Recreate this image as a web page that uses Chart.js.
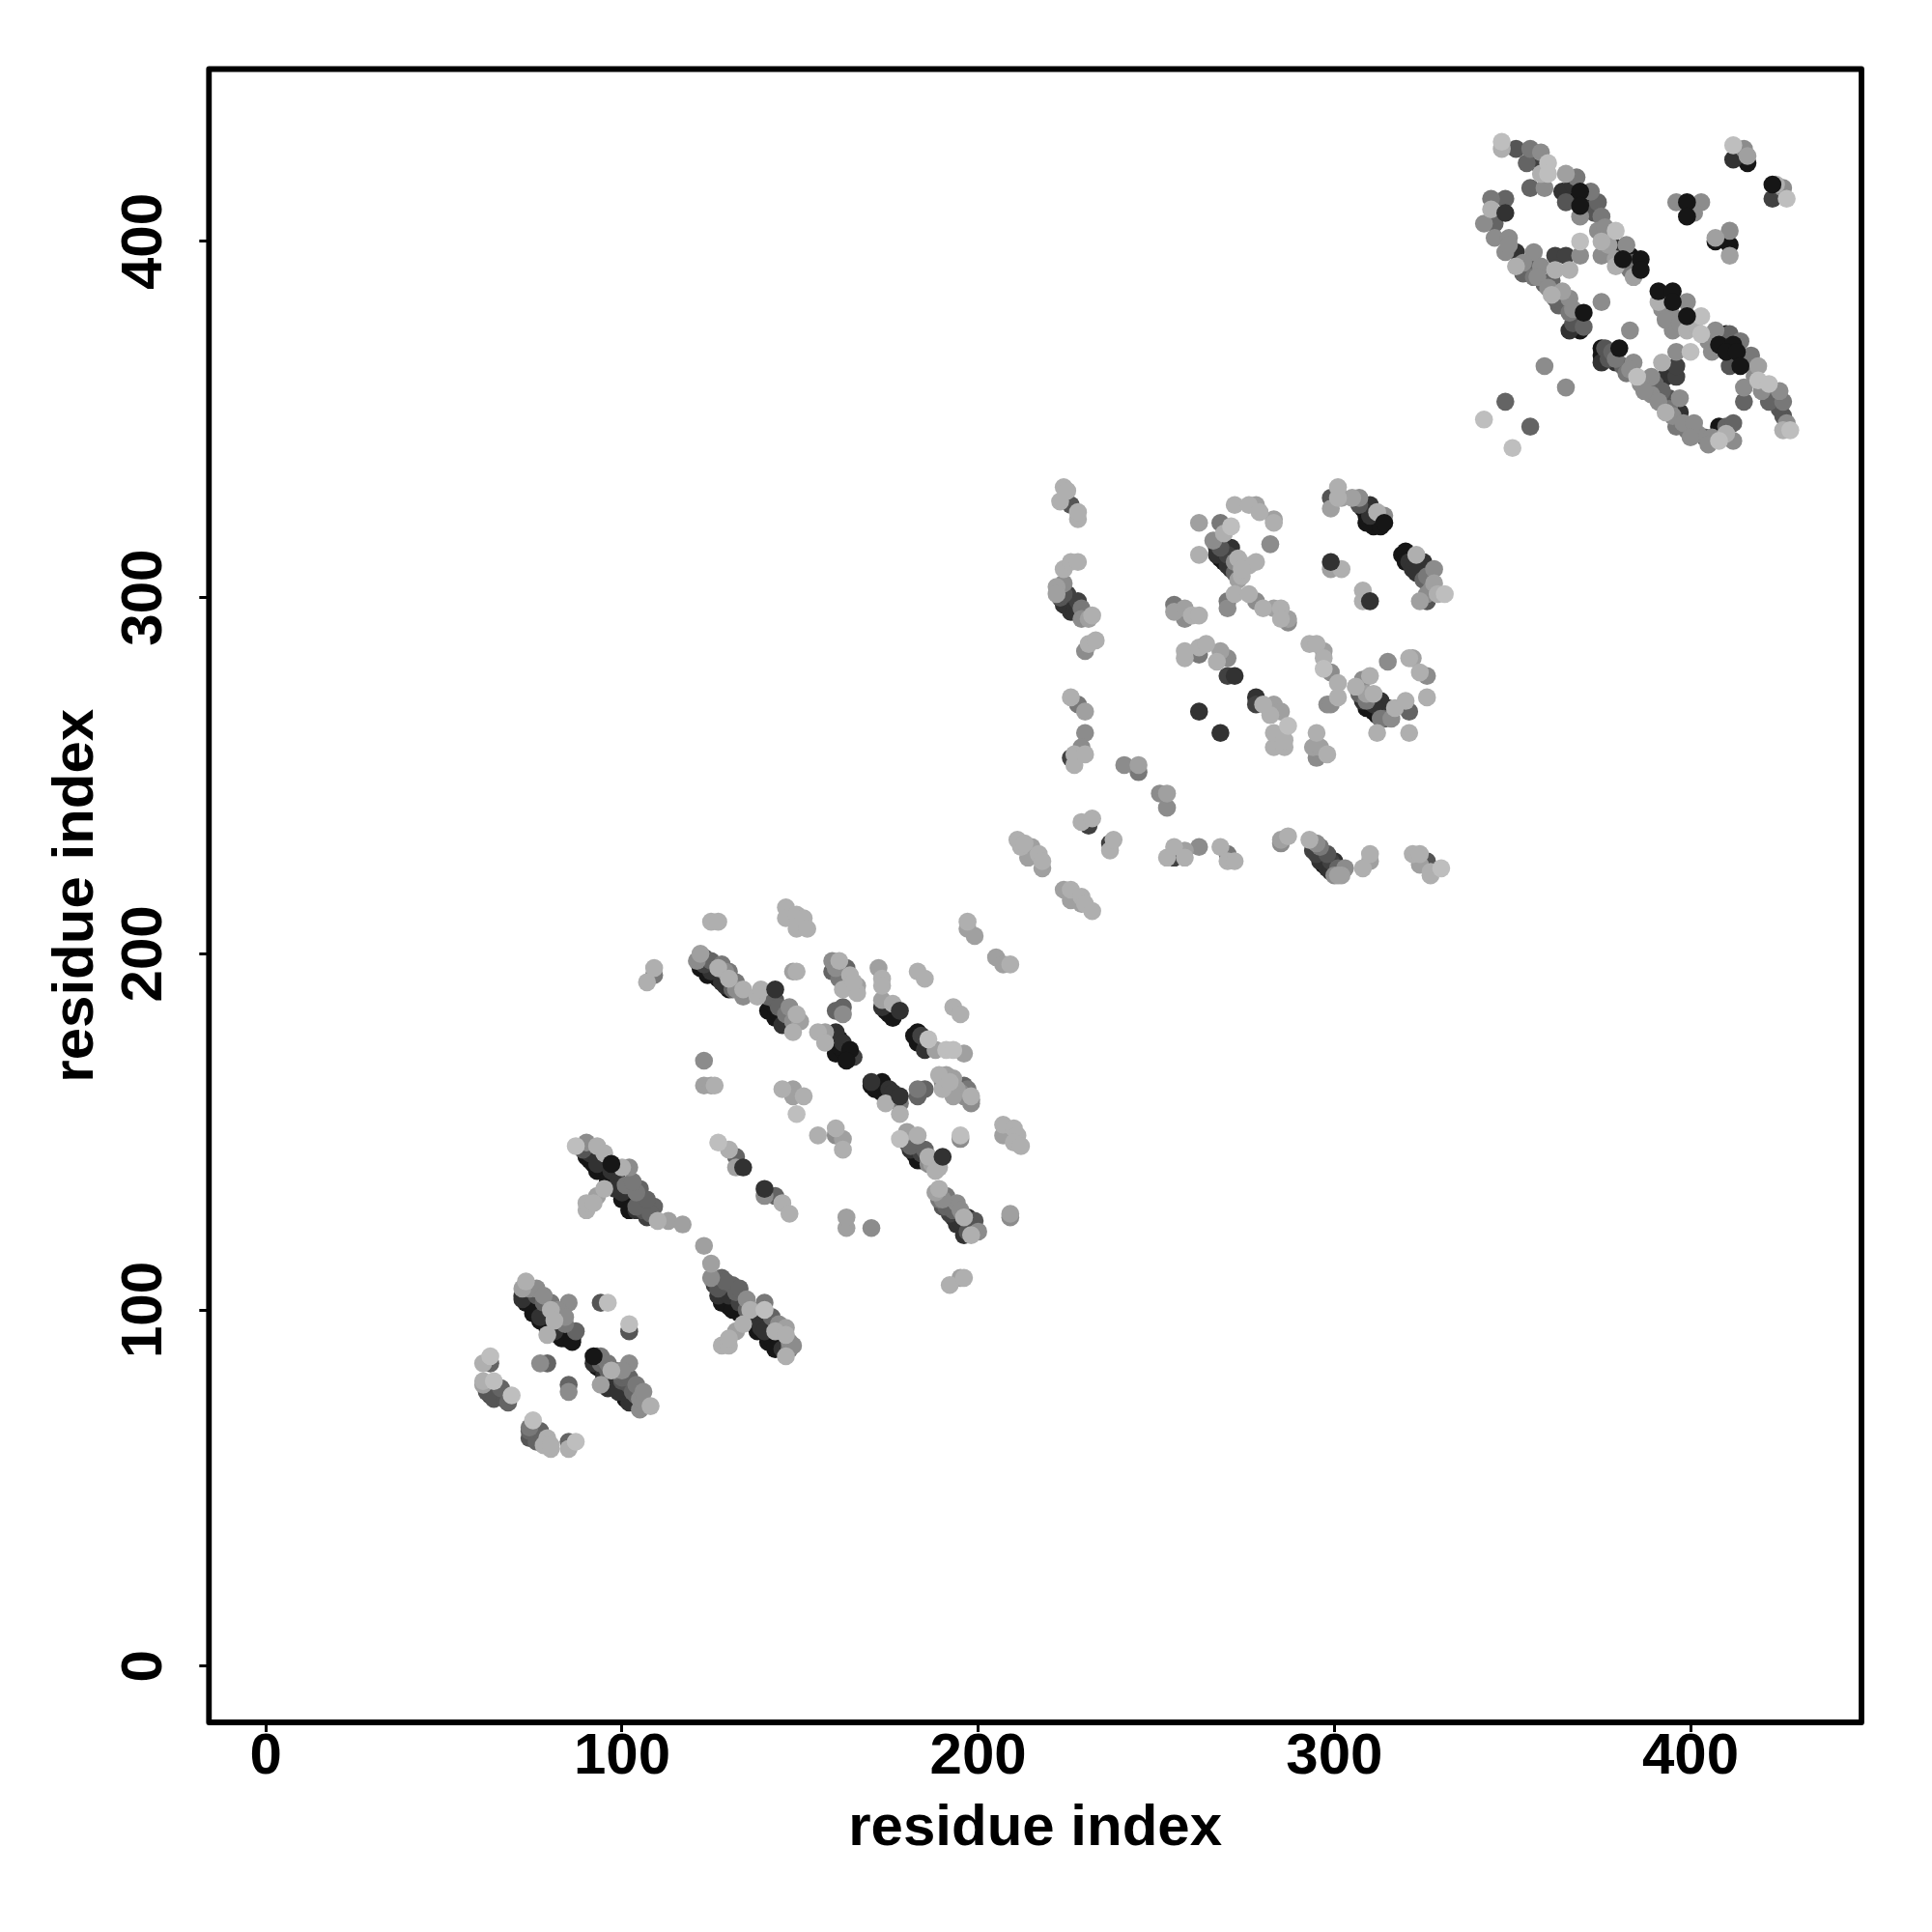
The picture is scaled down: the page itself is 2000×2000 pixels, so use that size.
<!DOCTYPE html>
<html>
<head>
<meta charset="utf-8">
<style>
  html, body { margin: 0; padding: 0; background: #fff; }
  canvas { display: block; }
</style>
<script src="https://cdn.jsdelivr.net/npm/chart.js@4"></script>
</head>
<body>
<canvas id="contactMap" width="2000" height="2000"></canvas>
<script>
// each contact is [residue i, residue j, score 0-9], score picks the grey level
const lowCorner = [
  [61,85,1],[63,85,5],[63,87,0],[61,80,1],[61,79,2],[62,77,6],[63,76,7],[64,75,6],[64,80,0],[66,78,5],[67,75,6],[68,74,5],[69,76,0],
  [74,67,4],[74,66,5],[74,64,6],[76,63,5],[75,69,0],[77,66,5],[79,64,1],[78,62,1],[80,61,1],[80,62,1],[85,61,1],[85,63,5],[87,63,0],
  [77,85,3],[79,85,5],[85,77,3],[85,79,5],
];
const lowBand = [
  [94,79,2],[92,85,8],[93,87,5],[94,85,5],[95,82,8],[96,83,5],[96,78,8],[97,80,8],[97,83,1],[98,79,9],[99,77,8],[102,85,3],
  [100,83,3],[100,80,6],[102,79,6],[101,76,9],[103,77,5],[102,74,8],[105,72,3],[105,75,3],[108,73,1],
  [93,84,9],[95,81,9],[97,79,9],[99,78,9],[101,75,9],[103,74,8],[104,76,5],[106,74,3],[94,87,4],[96,85,4],[98,83,4],[100,81,5],[102,81,5],[104,79,4],[106,77,3],
  [79,93,1],[72,106,2],[73,108,1],[74,106,3],[72,104,8],[76,104,6],[74,102,9],[78,102,5],[75,100,9],[77,98,8],[80,100,1],[79,96,9],
  [85,102,3],[82,100,3],[81,97,1],[81,94,8],[83,92,9],[86,92,9],[84,96,4],[87,94,5],
  [72,103,8],[73,102,9],[75,99,9],[77,97,9],[79,95,9],[82,93,9],[84,92,9],[86,91,9],[76,106,3],[78,104,3],[80,102,4],[82,98,5],[84,98,3],
  [94,102,6],[96,102,0],[102,94,6],[102,96,0],
];
const firstCross = [
  [87,146,0],[90,147,3],[89,145,6],[91,144,8],[93,146,1],[92,141,9],[93,139,9],[95,144,1],[97,139,8],[100,140,1],[102,140,3],
  [99,136,8],[90,128,1],[90,130,1],[92,130,1],[93,132,2],[95,134,1],[100,133,8],[101,135,4],[102,130,9],[104,133,4],[104,128,8],
  [106,130,5],[107,126,7],[109,129,5],[110,125,1],[113,125,2],[117,124,2],[123,118,2],[125,113,2],
  [90,143,9],[91,142,9],[93,141,8],[94,140,9],[96,136,9],[97,135,9],[98,134,8],[100,131,9],[102,128,9],[104,129,5],[106,128,6],[108,127,5],[103,136,4],[105,134,5],[107,131,5],[105,132,6],
  [125,109,3],[128,109,5],[127,106,6],[131,107,5],[129,103,9],[132,105,5],[130,101,9],[133,99,9],[135,103,3],[136,100,1],
  [126,107,7],[127,104,8],[128,102,9],[130,104,8],[131,100,9],[133,102,7],[135,100,5],[129,108,5],[133,106,5],[135,101,8],
  [128,90,1],[130,90,1],[130,92,1],[132,94,2],[134,96,1],[138,98,8],[139,95,8],[140,102,4],[140,100,0],[141,93,9],[143,94,1],
  [144,90,9],[146,87,1],[146,93,1],[147,91,3],
  [137,96,9],[138,94,9],[140,94,8],[141,91,9],[142,92,9],[143,89,9],[145,89,8],[142,98,5],[144,96,3],[146,95,2],[148,90,3],[147,89,4],
];
const secondCross = [
  [127,147,0],[130,145,1],[132,143,5],[132,140,2],[140,132,3],[143,132,5],[145,130,1],[147,127,1],
  [125,209,1],[127,209,1],[107,192,1],[109,194,4],[109,196,1],
  [121,198,3],[122,200,2],[123,199,6],[122,196,9],[124,194,9],[126,196,8],[127,196,1],[128,192,8],[129,195,3],[130,193,1],[131,190,5],
  [132,192,4],[134,188,3],[134,190,1],
  [123,197,7],[125,195,8],[127,193,9],[129,191,8],[130,190,9],[125,198,5],[128,197,4],[130,195,4],[132,190,3],
  [138,188,1],[139,190,1],[141,188,5],[141,184,9],[144,185,5],[143,182,9],[145,180,8],[146,183,4],[148,178,1],[149,183,1],[150,181,2],
  [142,186,9],[144,183,9],[146,181,8],[143,187,6],[147,185,3],[148,181,3],
  [148,195,2],[149,195,1],
  [146,213,1],[146,210,1],[149,211,1],[149,207,1],[151,210,1],[152,207,1],
  [159,198,3],[161,198,1],[159,195,5],[163,196,5],[161,193,4],[162,190,1],[164,194,1],[166,189,1],[166,191,2],
  [160,196,3],[162,194,5],[164,191,4],[165,192,1],
  [160,184,5],[162,183,3],[162,185,5],
  [155,178,1],[157,175,1],[157,178,2],[160,178,8],[160,175,9],[162,175,8],[160,172,9],[165,171,7],
  [161,176,9],[162,173,9],[163,172,9],[161,174,9],
  [172,196,2],[173,193,1],[173,191,1],[173,187,2],[176,186,1],[173,185,8],[175,183,9],[174,184,9],[176,182,9],
  [183,195,1],[185,193,1],[197,207,2],[197,209,1],[199,205,2],[205,199,2],[207,197,2],[209,197,1],[193,185,1],[195,183,1],
];
const secondMiddle = [
  [183,178,9],[183,175,9],[185,173,8],[186,176,0],[188,173,2],[191,173,0],[193,173,0],[196,172,2],
  [182,177,9],[184,175,9],[185,174,9],[184,177,7],
  [174,158,1],[178,155,1],[178,158,4],[170,164,8],[173,164,9],[170,163,9],[175,162,8],[173,161,9],
  [171,162,9],[172,162,9],[174,160,9],[176,159,9],[176,161,8],
  [183,160,5],[183,162,4],[185,162,5],
  [189,166,1],[191,166,2],[193,165,2],[190,162,1],[192,162,2],[198,159,4],[196,163,5],[195,161,3],[198,160,1],
  [190,164,3],[192,164,1],[194,162,2],[193,160,2],[196,160,3],[197,162,4],[198,158,3],
  [123,170,3],[123,163,2],[125,163,2],[126,163,1],
  [145,162,1],[148,162,2],[148,160,2],[151,160,1],[149,155,0],
  [155,149,1],[160,149,3],[160,151,1],[162,145,1],[162,148,2],
  [178,148,0],[180,150,2],[183,149,1],[181,146,5],[185,145,5],[182,144,9],[184,142,9],[186,143,1],[189,140,1],
  [180,147,6],[181,145,8],[183,142,9],[184,144,7],[186,141,3],[187,141,2],[188,139,1],
  [195,148,3],[195,149,0],
  [207,152,1],[207,149,2],[210,151,1],[211,149,1],[210,147,1],[212,146,1],
  [188,133,2],[189,134,1],[190,129,6],[191,132,4],[192,127,7],[194,124,8],[194,130,3],[196,121,8],[197,126,8],[196,126,1],[199,125,6],[198,121,1],[200,122,3],
  [189,131,4],[190,131,3],[191,129,5],[192,130,5],[193,128,5],[193,126,8],[195,125,8],[195,128,3],[196,123,9],[198,124,7],[197,122,6],
  [209,126,3],[209,127,2],[163,123,2],[163,126,2],[170,123,3],[192,107,1],[195,109,2],[196,109,1],
];
const hingeContacts = [
  [223,327,1],[224,331,1],[225,330,1],[226,326,6],[228,322,1],[228,324,1],
  [224,308,1],[226,310,1],[228,310,1],
  [222,303,2],[224,304,3],[223,300,6],[225,301,7],[224,298,8],[228,299,7],[226,296,8],[229,294,3],[229,297,4],[232,295,1],
  [224,301,6],[225,298,9],[226,299,8],[227,296,8],[228,296,8],[230,295,4],[231,294,2],[222,301,2],
  [230,285,3],[231,287,1],[233,288,1],
  [226,272,1],[228,270,4],[230,268,2],[230,262,3],[226,255,7],[227,253,1],[227,256,1],[229,258,3],[230,256,1],
  [241,253,3],[245,251,4],[245,253,2],[253,241,3],[251,245,3],[253,245,2],
  [229,237,1],[231,236,7],[232,238,1],[237,229,1],[237,231,7],[238,232,1],
  [211,232,1],[212,230,1],[213,231,1],[215,230,2],[214,227,2],[217,228,1],[218,224,2],[218,226,1],
  [224,218,2],[226,218,1],[226,215,2],[229,214,2],[229,216,1],[230,214,1],[232,212,1],
];
const domainThree = [
  [272,326,1],[276,326,1],[278,326,2],[279,324,1],[283,321,1],[283,322,2],
  [262,321,2],[268,321,4],[271,320,0],[269,318,1],[282,315,3],[262,312,1],
  [266,316,3],[267,314,8],[268,314,6],[271,314,8],[268,311,9],[270,309,8],[273,311,1],[272,307,5],[274,306,1],[276,309,1],[278,310,1],
  [267,312,8],[269,310,9],[270,312,7],[271,308,8],[272,310,3],[273,305,2],[274,308,1],
  [270,297,3],[270,299,4],[272,301,1],[276,301,1],[278,299,3],[280,297,1],[283,297,2],[285,297,1],[287,293,3],[285,294,1],[287,294,2],
  [255,298,4],[255,296,2],[258,294,3],[258,297,2],[260,295,1],[262,295,1],
  [258,283,1],[258,285,1],[262,284,4],[262,286,1],[264,287,1],[267,282,1],[268,285,2],[270,283,3],
  [270,278,7],[278,270,7],[278,272,8],[280,270,1],[282,267,1],[283,270,2],[285,268,2],
  [293,287,1],[295,287,1],[297,285,2],[297,283,1],[297,280,0],[299,279,3],[301,276,1],[298,270,3],[299,270,3],[301,272,1],
  [306,275,1],[308,277,3],[310,278,1],[309,273,2],[311,273,1],[308,271,8],[309,269,9],[313,271,8],[315,269,9],[312,267,9],[314,266,5],[316,266,3],[317,269,1],[320,271,1],[321,268,5],
  [307,273,5],[309,271,4],[310,269,9],[311,270,8],[311,268,9],[313,268,8],[313,266,4],
  [315,282,3],[321,283,1],[322,283,2],[324,279,1],[326,278,3],[326,272,1],[312,262,1],[321,262,1],
  [283,258,1],[283,262,1],[285,261,5],[286,258,1],[286,260,1],[287,264,0],
  [294,258,2],[295,255,3],[295,262,1],[296,258,2],[298,256,1],
];
const domainThreeLow = [
  [253,227,1],[255,227,7],[255,230,1],[258,229,2],[258,227,1],[262,230,3],[268,230,1],[270,226,1],[270,228,4],[272,226,1],
  [285,231,3],[285,232,2],[287,233,1],
  [293,232,1],[294,229,7],[296,230,4],[296,226,8],[298,228,6],[298,224,8],[300,226,8],[300,222,3],[302,222,2],[303,224,3],[308,224,1],[310,226,2],[310,228,1],
  [295,228,7],[297,225,9],[299,223,8],[299,226,7],[301,224,5],[301,222,2],[295,231,3],
  [322,228,1],[324,225,2],[324,228,1],[326,226,6],[327,222,1],[327,223,1],[330,224,0],
];
const domainThreeHigh = [
  [299,325,2],[299,328,6],[301,331,1],[301,328,1],[302,328,2],[305,328,2],[307,328,3],[307,326,6],[310,326,8],[309,323,9],[312,324,1],[311,320,9],
  [308,325,9],[309,321,9],[310,323,8],[312,322,9],[313,320,9],[314,323,3],
  [299,308,2],[302,308,1],[308,299,1],[308,302,1],
  [319,312,9],[320,313,9],[323,312,1],[321,310,8],[325,310,8],[324,308,8],[328,308,3],[328,304,2],
  [320,310,9],[322,310,9],[322,308,8],[323,307,8],[325,305,5],[326,306,4],[327,302,3],
  [324,299,2],[326,299,6],[326,301,3],[329,301,1],[331,301,0],
];
const topBand = [
  [347,426,1],[347,428,0],[351,426,6],[355,426,4],[358,425,3],[354,422,5],[357,422,7],[358,419,1],[360,422,0],[360,419,0],
  [355,415,5],[359,415,3],
  [365,411,6],[365,419,2],[368,418,4],[364,414,8],[369,407,3],[372,414,4],[374,411,5],[375,407,4],[374,403,3],
  [367,416,8],[367,412,9],[370,412,9],[371,409,7],[373,408,6],[376,404,3],[377,399,2],[376,402,4],[380,398,9],[383,396,9],[384,394,5],[379,393,1],[384,390,2],
  [379,403,0],[375,396,3],[375,400,1],[379,395,2],[378,399,8],[382,399,3],[383,392,4],
  [344,412,4],[348,412,5],[344,409,1],[342,405,3],[345,405,5],[345,401,3],[349,401,3],[348,397,3],[351,393,1],[351,397,8],
  [356,397,3],[355,394,5],[356,390,4],[358,393,3],[362,396,7],[365,396,7],[369,396,3],[369,400,0],[361,389,5],[362,392,1],[366,392,1],
  [349,399,3],[353,394,3],[353,391,5],[357,390,3],[359,388,5],[360,387,3],[363,382,5],[367,377,6],[367,381,3],[364,386,2],[368,378,8],
  [361,385,1],[362,384,5],[366,384,3],[375,383,3],[366,380,4],[366,375,8],[369,375,9],[370,376,5],
  [383,375,3],[359,365,3],[365,359,3],[348,355,5],[342,350,0],[355,348,5],[350,342,0],
];
const topLowBand = [
  [375,366,8],[375,370,9],[376,370,6],[379,366,8],[379,367,4],[382,363,4],[384,366,3],[385,362,0],[389,357,3],[389,362,3],
  [375,368,9],[377,367,6],[378,369,5],[381,365,5],[383,364,3],[386,360,3],[387,358,3],[390,360,5],[391,355,3],[392,358,5],[394,353,4],[395,351,3],[398,349,3],[399,347,4],[402,346,3],[406,345,3],[410,346,1],[410,348,5],
  [392,366,1],[393,362,8],[396,362,7],[396,365,7],[396,369,3],[400,369,0],[393,352,1],[394,356,6],[397,356,3],[396,348,4],[397,352,8],
  [401,349,3],[400,345,3],[405,343,3],[404,345,5],[408,348,9],[408,344,0],[412,349,5],[412,344,3],
  [391,383,1],[399,383,3],[395,379,3],[395,375,3],[403,379,0],[399,375,1],[403,374,0],
  [392,381,3],[393,378,3],[397,377,3],[401,377,1],[405,372,3],[412,367,8],[416,366,5],[418,362,3],[420,358,3],[423,357,5],[425,353,6],[427,349,3],
  [407,375,3],[406,369,3],[410,374,9],[411,374,5],[414,372,4],[411,365,6],[417,368,4],[419,365,2],
  [415,359,3],[415,355,5],[419,361,0],[422,355,5],[422,360,0],[425,358,3],[426,355,4],[426,351,6],[426,347,1],[428,347,0],
];
const topCorner = [
  [412,423,8],[412,427,0],[415,426,3],[416,422,9],[416,424,2],
  [423,412,7],[424,416,1],[426,415,3],[427,412,0],
  [396,411,3],[403,411,3],[401,408,3],
  [407,400,9],[407,401,2],[411,396,2],[411,399,9],[411,403,3],
];
// these dark ones sit on top of their neighbours in the picture
const darkOnTop = [
  [92,87,9],[97,141,9],[134,140,8],[140,134,8],[143,190,8],[164,173,9],[163,170,9],[178,184,8],[178,160,8],[190,143,8],[272,278,8],[262,268,8],[268,262,8],
  [314,321,9],[299,310,8],[310,299,8],[348,408,8],[369,414,9],[369,410,9],[381,395,9],[386,395,9],[386,392,9],[391,386,9],[395,386,9],
  [370,380,9],[380,370,9],[395,383,9],[399,379,9],[399,411,9],[399,407,9],[408,371,9],[412,371,9],[410,369,9],[413,369,9],[414,365,9],[423,416,9],
];

const bandContacts = [lowCorner, lowBand, firstCross, secondCross, secondMiddle, hingeContacts,
  domainThree, domainThreeLow, domainThreeHigh, topBand, topLowBand, topCorner];

const greyLevels = [190, 175, 160, 140, 120, 100, 85, 65, 50, 22];
const tickValues = [0, 100, 200, 300, 400];
const axisTitle = 'residue index';

function scoreToGrey(score) {
  const level = greyLevels[score];
  return `rgb(${level}, ${level}, ${level})`;
}

const labelFont = { family: '"Liberation Sans", Arial, sans-serif', weight: 'bold', size: 60, lineHeight: 1 };

// darkest first so the paler points lie over them
const contacts = bandContacts.flat().sort((a, b) => b[2] - a[2]).concat(darkOnTop);

const datasets = [{
  data: contacts.map((c) => ({ x: c[0], y: c[1] })),
  pointBackgroundColor: contacts.map((c) => scoreToGrey(c[2])),
  pointBorderWidth: 0,
  pointRadius: 9.3,
}];

// the box round the plot and the sideways y labels, chart.js won't centre rotated y ticks on its own
const framePlugin = {
  id: 'frame',
  afterDraw(chart) {
    const { ctx, chartArea, scales } = chart;
    ctx.save();
    ctx.strokeStyle = '#000';
    ctx.lineWidth = 5.8;
    ctx.lineJoin = 'round';
    ctx.strokeRect(chartArea.left, chartArea.top, chartArea.width, chartArea.height);
    ctx.fillStyle = '#000';
    ctx.font = `bold ${labelFont.size}px ${labelFont.family}`;
    ctx.textAlign = 'center';
    ctx.textBaseline = 'middle';
    tickValues.forEach((value) => {
      ctx.save();
      ctx.translate(chartArea.left - 66, scales.y.getPixelForValue(value));
      ctx.rotate(-Math.PI / 2);
      ctx.fillText(String(value), 0, 0);
      ctx.restore();
    });
    ctx.restore();
  },
};

const sharedGrid = { drawOnChartArea: false, tickLength: 10, tickWidth: 3, tickColor: '#000' };

new Chart(document.getElementById('contactMap'), {
  type: 'scatter',
  data: { datasets },
  options: {
    responsive: false,
    animation: false,
    events: [],
    layout: { padding: { top: 71.5, right: 73, left: 0, bottom: 0 } },
    plugins: { legend: { display: false }, tooltip: { enabled: false } },
    scales: {
      x: {
        min: -16,
        max: 448,
        afterBuildTicks(scale) { scale.ticks = tickValues.map((value) => ({ value })); },
        afterFit(scale) { scale.height = 217; },
        border: { display: false },
        grid: sharedGrid,
        ticks: { color: '#000', font: labelFont, padding: -4, maxRotation: 0, autoSkip: false },
        title: { display: true, text: axisTitle, color: '#000', font: labelFont, padding: { top: 0, bottom: 77 } },
      },
      y: {
        min: -15.8,
        max: 448.4,
        afterBuildTicks(scale) { scale.ticks = tickValues.map((value) => ({ value })); },
        afterFit(scale) { scale.width = 216.3; },
        border: { display: false },
        grid: sharedGrid,
        ticks: { display: false },
        title: { display: true, text: axisTitle, color: '#000', font: labelFont, padding: { top: 49, bottom: 0 } },
      },
    },
  },
  plugins: [framePlugin],
});
</script>
</body>
</html>
